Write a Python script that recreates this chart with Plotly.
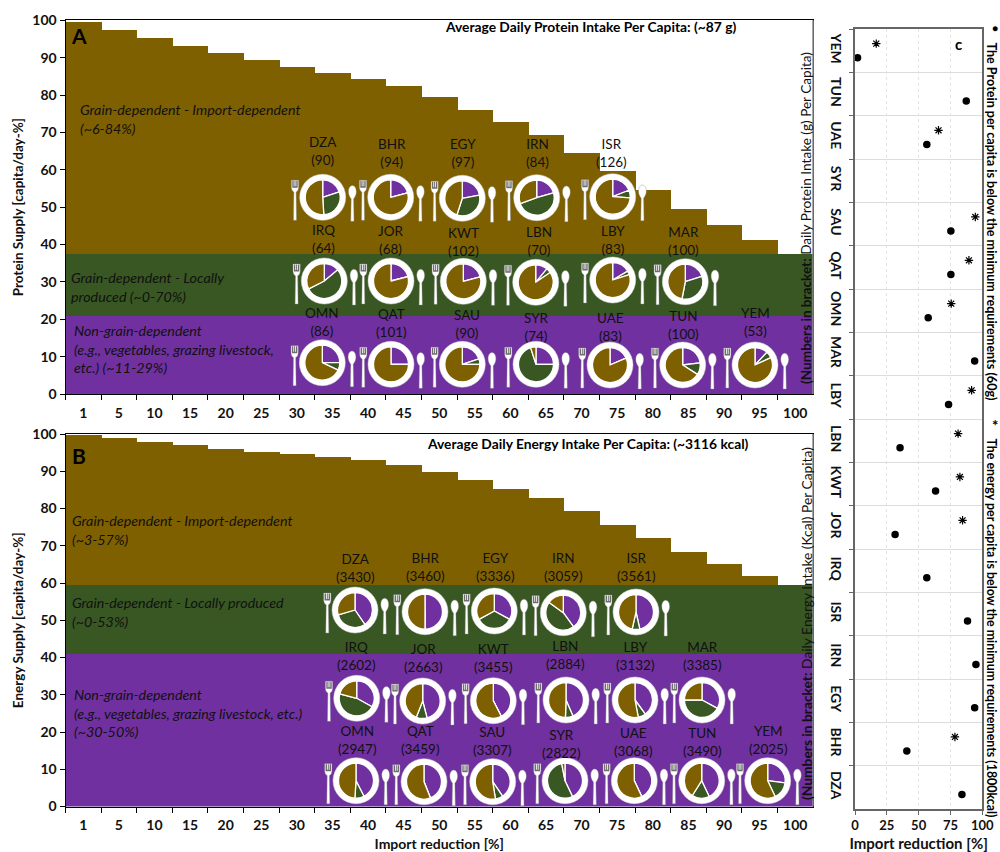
import plotly.graph_objects as go

W, H = 1000, 852
BROWN, GREEN, PURPLE = "#7F6000", "#385723", "#7030A0"
FONT = "Lato"

reduction_labels = ["1", "5", "10", "15", "20", "25", "30", "35", "40", "45", "50",
                    "55", "60", "65", "70", "75", "80", "85", "90", "95", "100"]

# Panel A - protein supply staircase (top of the stack, % of capita/day)
protein_top = [99.5, 97.3, 95.2, 93.1, 91.1, 89.2, 87.5, 85.9, 84.2, 82.3, 79.3,
               76.0, 72.8, 69.2, 64.4, 59.7, 54.5, 49.5, 45.1, 41.0, 37.3]
protein_local_top = 37.3
protein_nongrain_top = 20.7

# Panel B - energy supply staircase
energy_top = [99.8, 98.8, 97.9, 97.0, 96.1, 95.3, 94.6, 93.9, 92.9, 91.7, 89.7,
              87.6, 85.3, 82.7, 79.3, 75.7, 72.0, 68.4, 65.2, 62.0, 59.5]
energy_local_top = 59.5
energy_nongrain_top = 41.0

# Countries as they appear on the plates
countries = ["DZA", "BHR", "EGY", "IRN", "ISR", "IRQ", "JOR", "KWT", "LBN", "LBY",
             "MAR", "OMN", "QAT", "SAU", "SYR", "UAE", "TUN", "YEM"]
protein_intake = [90, 94, 97, 84, 126, 64, 68, 102, 70, 83, 100, 86, 101, 90, 74, 83, 100, 53]
energy_intake = [3430, 3460, 3336, 3059, 3561, 2602, 2663, 3455, 2884, 3132, 3385,
                 2947, 3459, 3307, 2822, 3068, 3490, 2025]

# Plate shares per country: non-grain, grain local, grain import
protein_purple = [20, 21, 22, 20.5, 19, 14, 21, 21, 11, 16.5, 20, 25, 25, 20, 25, 18.5, 23, 12]
protein_green = [29, 0, 33, 49, 7, 53.5, 0, 0, 4.5, 3.5, 33, 7, 0, 5, 70, 0, 11, 6]
protein_brown = [51, 79, 45, 30.5, 74, 32.5, 79, 79, 84.5, 80, 47, 68, 75, 75, 5, 81.5, 66, 82]
energy_purple = [40.5, 50, 33, 40, 46.5, 33, 46, 42.5, 43.5, 40, 33, 42.5, 44, 40.5, 43, 43, 43, 27]
energy_green = [30, 0, 34, 45, 7, 46, 10, 0, 7, 7, 42, 8.5, 0, 7, 54, 0, 16, 16]
energy_brown = [29.5, 50, 33, 15, 46.5, 21, 44, 57.5, 49.5, 53, 25, 49, 56, 52.5, 3, 57, 41, 57]

# Panel C
c_countries = ["YEM", "TUN", "UAE", "SYR", "SAU", "QAT", "OMN", "MAR", "LBY", "LBN",
               "KWT", "JOR", "IRQ", "ISR", "IRN", "EGY", "BHR", "DZA"]
c_protein_dot = [2, 87.4, 56.4, None, 75.3, 75.3, 57.5, 94, 73.5, 35.4,
                 63.3, 31.5, 56.4, 88.4, 95, 94, 40.7, 84]
c_energy_star = [16.7, None, 65.6, None, 94.5, 89.5, 75.6, None, 91.6, 81,
                 82.4, 84.5, None, None, None, None, 78.5, None]

# Placement in page pixels (plate centres and label-block centres)
plates_a = {"DZA": (322.7, 197.3), "BHR": (390.7, 197.3), "EGY": (462.3, 198.3), "IRN": (536.7, 197.7),
            "ISR": (612.7, 196.7), "IRQ": (324.3, 281), "JOR": (391, 281), "KWT": (463.3, 281.3),
            "LBN": (535.7, 282.3), "LBY": (612.7, 280), "MAR": (685.3, 281.7), "OMN": (322.3, 362.7),
            "QAT": (391, 364.3), "SAU": (462.3, 364.3), "SYR": (536, 364.3), "UAE": (610, 365),
            "TUN": (682.7, 365), "YEM": (755, 365)}
labels_a = {"DZA": (322.7, 150.7), "BHR": (392, 152.7), "EGY": (463, 153.3), "IRN": (537, 153.3),
            "ISR": (611.7, 153.3), "IRQ": (323.3, 239.3), "JOR": (391.3, 240), "KWT": (463.7, 241.7),
            "LBN": (539.3, 240.7), "LBY": (612.7, 240), "MAR": (683.3, 241), "OMN": (322.3, 321.7),
            "QAT": (391.3, 323.3), "SAU": (466.7, 324), "SYR": (536, 326.7), "UAE": (610, 326.7),
            "TUN": (683.3, 325), "YEM": (755.7, 322.3)}
plates_b = {"DZA": (355, 610), "BHR": (425, 611.7), "EGY": (494.3, 611), "IRN": (563.3, 612.7),
            "ISR": (636, 612), "IRQ": (356.7, 698.3), "JOR": (422.7, 701), "KWT": (493.3, 700.7),
            "LBN": (566, 700), "LBY": (635, 700), "MAR": (702, 700), "OMN": (356, 780.7),
            "QAT": (424, 781.7), "SAU": (492.7, 781.7), "SYR": (565, 780.7), "UAE": (634.3, 780.7),
            "TUN": (701.7, 780.7), "YEM": (767.7, 780.7)}
labels_b = {"DZA": (355, 568.3), "BHR": (425, 566.7), "EGY": (495, 567.3), "IRN": (563.7, 567.3),
            "ISR": (636, 567.3), "IRQ": (356.7, 655.7), "JOR": (423.7, 658.3), "KWT": (493.3, 658.3),
            "LBN": (565, 655), "LBY": (635, 655.7), "MAR": (702, 656), "OMN": (357.7, 740),
            "QAT": (420.7, 740), "SAU": (492.3, 740.7), "SYR": (561.7, 744), "UAE": (633.3, 742.3),
            "TUN": (702, 741.7), "YEM": (768.3, 740)}

A_BOX = (65.5, 813, 20.3, 394)
B_BOX = (65.5, 813, 434, 806.5)
C_BOX = (855, 982.3, 29, 809)


def dom_x(box):
    return [box[0] / W, box[1] / W]


def dom_y(box):
    return [1 - box[3] / H, 1 - box[2] / H]


def px(x):
    return x / W


def py(y):
    return 1 - y / H


fig = go.Figure()


def staircase(tops, local_top, nongrain_top, xa, ya):
    fig.add_bar(x=reduction_labels, y=[nongrain_top] * len(tops), marker=dict(color=PURPLE, line_width=0), xaxis=xa, yaxis=ya)
    fig.add_bar(x=reduction_labels, y=[local_top - nongrain_top] * len(tops), marker=dict(color=GREEN, line_width=0), xaxis=xa, yaxis=ya)
    fig.add_bar(x=reduction_labels, y=[t - local_top for t in tops], marker=dict(color=BROWN, line_width=0), xaxis=xa, yaxis=ya)


staircase(protein_top, protein_local_top, protein_nongrain_top, "x", "y")
staircase(energy_top, energy_local_top, energy_nongrain_top, "x2", "y2")

# Panel C
fig.add_scatter(x=c_energy_star, y=c_countries, mode="markers", orientation="h", offsetgroup="star",
                marker=dict(symbol="asterisk-open", size=7, color="black", line=dict(color="#222", width=1.2)),
                xaxis="x3", yaxis="y3")
fig.add_scatter(x=c_protein_dot, y=c_countries, mode="markers", orientation="h", offsetgroup="dot",
                marker=dict(symbol="circle", size=7.5, color="black"), xaxis="x3", yaxis="y3")

# White plates, on a page-sized helper subplot
all_plates = list(plates_a.values()) + list(plates_b.values())
fig.add_scatter(x=[p[0] for p in all_plates], y=[p[1] for p in all_plates], mode="markers",
                marker=dict(symbol="circle", size=46, color="white", line=dict(color="#d9d9d9", width=0.5)),
                xaxis="x4", yaxis="y4")

PIE_R = 17.5


def plates(place, purple, green, brown):
    for c, p, g, b in zip(countries, purple, green, brown):
        cx, cy = place[c]
        fig.add_pie(values=[p, g, b], sort=False, direction="clockwise", rotation=0,
                    textinfo="none", hoverinfo="skip", showlegend=False,
                    marker=dict(colors=[PURPLE, GREEN, BROWN], line=dict(color="white", width=1.3)),
                    domain=dict(x=[px(cx - PIE_R), px(cx + PIE_R)], y=[py(cy + PIE_R), py(cy - PIE_R)]))


plates(plates_a, protein_purple, protein_green, protein_brown)
plates(plates_b, energy_purple, energy_green, energy_brown)

# Cutlery, as pixel-sized paths anchored beside each plate (y up)
FORK = ("M-3.6,17 L-3.6,9.5 Q-3.6,6.5 -1.1,5 L-1.5,-23 L1.5,-23 L1.1,5 "
        "Q3.6,6.5 3.6,9.5 L3.6,17 Z")
FORK_HEAD = "M-2.7,16.5 L-2.7,9.5 L2.7,9.5 L2.7,16.5 L1.3,16.5 L1.3,11 L0.5,11 L0.5,16.5 L-0.5,16.5 L-0.5,11 L-1.3,11 L-1.3,16.5 Z"
SPOON = ("M0,11.7 C2.6,11.7 3.9,8.6 3.9,5.6 C3.9,2.5 2.6,0.2 1.2,-1.5 L1.6,-24 L-1.6,-24 L-1.2,-1.5 "
         "C-2.6,0.2 -3.9,2.5 -3.9,5.6 C-3.9,8.6 -2.6,11.7 0,11.7 Z")
shapes = []
for cx, cy in all_plates:
    for dx, path, fill, lw in [(-27.7, FORK, "white", 0.4), (-27.7, FORK_HEAD, "#6e6e6e", 0), (29.7, SPOON, "white", 0.4)]:
        shapes.append(dict(type="path", xref="paper", yref="paper", xsizemode="pixel", ysizemode="pixel",
                           xanchor=px(cx + dx), yanchor=py(cy), path=path, fillcolor=fill,
                           line=dict(color="#8a8a8a", width=lw), layer="above"))
# Grey right-hand edges of panels A and B
for box in (A_BOX, B_BOX):
    shapes.append(dict(type="line", xref="paper", yref="paper", x0=px(box[1]), x1=px(box[1]),
                       y0=py(box[3]), y1=py(box[2]), line=dict(color="#8c8c8c", width=1.5), layer="above"))

ann = []


def note(x, y, text, size=13, bold=False, italic=False, angle=0, anchor="center", color="#111"):
    ann.append(dict(xref="paper", yref="paper", x=px(x), y=py(y), text=text, showarrow=False,
                    xanchor=anchor, yanchor="middle", align="left" if anchor == "left" else "center",
                    textangle=angle,
                    font=dict(family=FONT, size=size, color=color, weight="bold" if bold else "normal",
                              style="italic" if italic else "normal")))


for c, v in zip(countries, protein_intake):
    note(*labels_a[c], f"{c}<br>({v})", size=13.5)
for c, v in zip(countries, energy_intake):
    note(*labels_b[c], f"{c}<br>({v})", size=13.5)

note(79, 36, "A", size=21, bold=True, color="black")
note(79, 455, "B", size=21, bold=True, color="black")
note(958, 44, "c", size=15, bold=True, color="black")
note(590, 27, "Average Daily Protein Intake Per Capita: (~87 g)", size=13.8, bold=True, color="black")
note(588, 443, "Average Daily Energy Intake Per Capita: (~3116 kcal)", size=13.8, bold=True, color="black")
note(78, 119, "Grain-dependent - Import-dependent<br>(~6-84%)", size=14.3, italic=True, anchor="left")
note(69, 287, "Grain-dependent - Locally<br>produced (~0-70%)", size=14.3, italic=True, anchor="left")
note(72, 349, "Non-grain-dependent<br>(e.g., vegetables, grazing livestock,<br>etc.) (~11-29%)", size=14.3, italic=True, anchor="left")
note(70, 530, "Grain-dependent - Import-dependent<br>(~3-57%)", size=14.3, italic=True, anchor="left")
note(70, 612, "Grain-dependent - Locally produced<br>(~0-53%)", size=14.3, italic=True, anchor="left")
note(72, 713, "Non-grain-dependent<br>(e.g., vegetables, grazing livestock, etc.)<br>(~30-50%)", size=14.3, italic=True, anchor="left")
note(806, 218, "<b>(Numbers in bracket:</b> Daily Protein Intake (g) Per Capita)", size=13.6, angle=-90)
note(806, 624, "<b>(Numbers in bracket:</b> Daily Energy Intake (Kcal) Per Capita)", size=13.8, angle=-90)
note(995, 28, "●", size=10, color="black")
note(991.5, 221, "The Protein per capita is below the minimum requirements (60g)", size=12.6, bold=True, angle=90, color="black")
note(995, 425, "*", size=15, bold=True, color="black")
note(991.5, 628, "The energy per capita is below the minimum requirements (1800kcal)", size=12.4, bold=True, angle=90, color="black")

tick_font = dict(family=FONT, size=14, color="#111", weight="bold")
title_font = dict(family=FONT, size=13.5, color="#111", weight="bold")


def x_band(box, anchor, title=None):
    return dict(domain=dom_x(box), anchor=anchor, type="category", categoryorder="array", categoryarray=reduction_labels,
                tickson="boundaries", ticks="outside", ticklen=5, tickcolor="black", showline=True, mirror=True,
                linecolor="black", linewidth=1, showgrid=False, tickfont=tick_font, tickangle=0, automargin=False,
                ticklabelstandoff=6,
                title=dict(text=title, font=dict(family=FONT, size=14, color="#111", weight="bold"), standoff=10) if title else None)


def y_pct(box, anchor, title):
    return dict(domain=dom_y(box), anchor=anchor, range=[0, 100], dtick=10, ticks="outside", ticklen=5, tickcolor="black",
                showline=True, mirror=True, linecolor="black", linewidth=1, showgrid=False, zeroline=False,
                tickfont=tick_font, automargin=False,
                title=dict(text=title, font=title_font, standoff=5))


fig.update_layout(
    width=W, height=H, template="none", showlegend=False, autosize=False,
    paper_bgcolor="white", plot_bgcolor="rgba(0,0,0,0)",
    margin=dict(l=0, r=0, t=0, b=0, autoexpand=False, pad=0),
    barmode="stack", bargap=0, scattermode="group", scattergap=0.35,
    xaxis=x_band(A_BOX, "y"), yaxis=y_pct(A_BOX, "x", "Protein Supply [capita/day-%]"),
    xaxis2=x_band(B_BOX, "y2", "Import reduction [%]"), yaxis2=y_pct(B_BOX, "x2", "Energy Supply [capita/day-%]"),
    xaxis3=dict(domain=dom_x(C_BOX), anchor="y3", range=[0, 100], tickvals=[0, 25, 50, 75, 100], ticks="outside", ticklen=4,
                tickcolor="#666", showline=True, mirror=True, linecolor="#666", linewidth=1.6, showgrid=True,
                gridcolor="#e4e4e4", griddash="dot", gridwidth=1, zeroline=False, automargin=False,
                tickfont=dict(family=FONT, size=13, color="#111", weight="bold"),
                title=dict(text="Import reduction [%]", font=dict(family=FONT, size=15, color="#111", weight="bold"), standoff=13)),
    yaxis3=dict(domain=dom_y(C_BOX), anchor="x3", type="category", categoryorder="array", categoryarray=c_countries,
                range=[17.5, -0.5], tickson="boundaries", ticks="outside", ticklen=4.5, tickcolor="#666", tickangle=90,
                showline=True, mirror=True, linecolor="#666", linewidth=1.6, showgrid=True, gridcolor="#dcdcdc", gridwidth=1.3,
                ticklabelstandoff=5,
                automargin=False, tickfont=dict(family=FONT, size=14, color="#111", weight="bold")),
    xaxis4=dict(domain=[0, 1], anchor="y4", range=[0, W], visible=False, fixedrange=True),
    yaxis4=dict(domain=[0, 1], anchor="x4", range=[H, 0], visible=False, fixedrange=True),
    shapes=shapes, annotations=ann,
)
fig.write_html("out.html", config=dict(displayModeBar=False),
               post_script="document.body.style.margin='0';document.documentElement.style.overflow='hidden';")
